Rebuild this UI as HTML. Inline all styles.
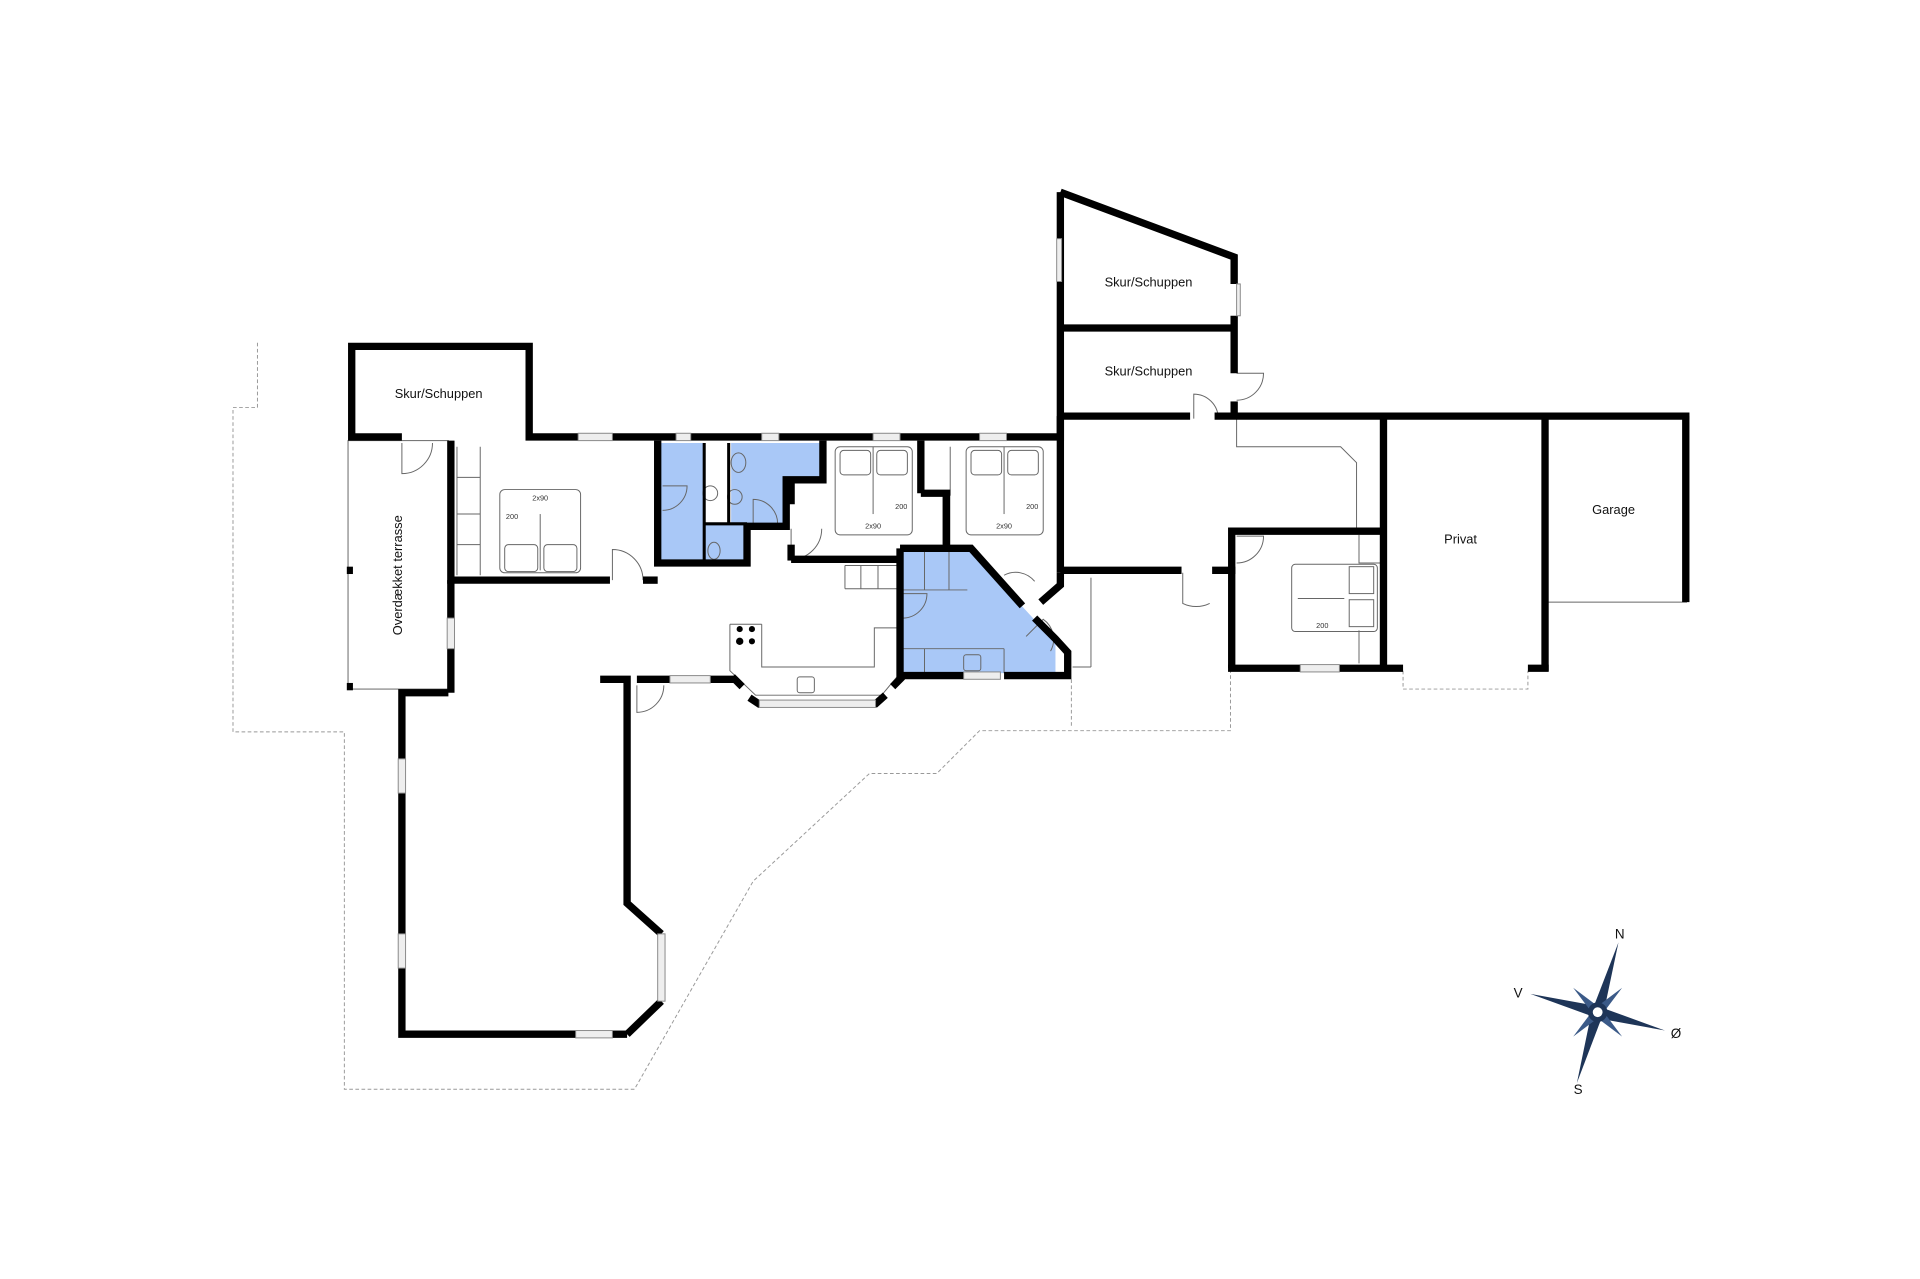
<!DOCTYPE html>
<html><head><meta charset="utf-8"><style>html,body{margin:0;padding:0;background:#fff}svg{display:block}</style></head><body>
<svg width="1920" height="1279" viewBox="0 0 1568 1045" xmlns="http://www.w3.org/2000/svg" font-family="Liberation Sans, sans-serif">
<rect width="1568" height="1045" fill="#fff"/>
<g fill="none" stroke="#999" stroke-width="0.8" stroke-dasharray="3,2">
<polyline points="210,280 210,333 190,333 190,598 281,598 281,890 518,890 615,720 710,632 765,632 800,597 1005,597 1005,548"/>
<polyline points="875,555 875,595"/>
<polyline points="1146,548 1146,563 1248,563 1248,548"/>
</g>
<g fill="#a9c8f7">
<polygon points="538,362 575,362 575,460 538,460"/>
<polygon points="575,428 608,428 608,460 575,460"/>
<polygon points="597,362 670,362 670,392 642,392 642,428 597,428"/>
<polygon points="737,450 793,450 862,525 862,550 737,550"/>
</g>
<g fill="none" stroke="#666" stroke-width="0.8">
<rect x="284" y="360" width="82" height="203"/>
<line x1="373" y1="365" x2="373" y2="470"/><line x1="373" y1="390" x2="392" y2="390"/><line x1="373" y1="420" x2="392" y2="420"/><line x1="373" y1="445" x2="392" y2="445"/>
<line x1="392" y1="365" x2="392" y2="470"/>
<rect x="408" y="400" width="66" height="68" rx="4"/>
<line x1="441" y1="420" x2="441" y2="466"/>
<rect x="682" y="365" width="63" height="72" rx="4"/><line x1="713" y1="365" x2="713" y2="420"/>
<rect x="789" y="365" width="63" height="72" rx="4"/><line x1="820" y1="365" x2="820" y2="420"/>
<rect x="1055" y="461" width="70" height="55" rx="3"/><line x1="1060" y1="489" x2="1098" y2="489"/>
<rect x="1102" y="463" width="20" height="22"/><rect x="1102" y="490" width="20" height="22"/>
<rect x="412" y="445" width="27" height="22" rx="3"/><rect x="444" y="445" width="27" height="22" rx="3"/>
<rect x="686" y="368" width="25" height="20" rx="3"/><rect x="716" y="368" width="25" height="20" rx="3"/>
<rect x="793" y="368" width="25" height="20" rx="3"/><rect x="823" y="368" width="25" height="20" rx="3"/>
<polyline points="596,510 596,548 617,568 720,568 735,550"/>
<polyline points="622,510 622,545 714,545 714,513 735,513"/>
<line x1="596" y1="510" x2="622" y2="510"/>
<line x1="690" y1="462" x2="735" y2="462"/><line x1="690" y1="462" x2="690" y2="481"/><line x1="703" y1="462" x2="703" y2="481"/><line x1="717" y1="462" x2="717" y2="481"/><line x1="690" y1="481" x2="735" y2="481"/>
<line x1="737" y1="482" x2="790" y2="482"/><line x1="755" y1="450" x2="755" y2="482"/><line x1="775" y1="450" x2="775" y2="482"/>
<line x1="737" y1="530" x2="820" y2="530"/><line x1="820" y1="530" x2="820" y2="550"/><line x1="755" y1="530" x2="755" y2="550"/>
<rect x="787" y="535" width="14" height="13" rx="2"/><rect x="651" y="553" width="14" height="13" rx="2"/>
<circle cx="580" cy="403" r="6"/><circle cx="600" cy="406" r="6"/><ellipse cx="603" cy="378" rx="6" ry="8"/><ellipse cx="583" cy="450" rx="5" ry="7"/>
<polyline points="1010,342 1010,365 1095,365 1108,378 1108,432"/>
<polyline points="1110,437 1110,460 1128,460"/><polyline points="1110,515 1110,542"/>
<line x1="1262" y1="492" x2="1378" y2="492"/>
<line x1="891" y1="472" x2="891" y2="545"/><line x1="876" y1="545" x2="891" y2="545"/>
<line x1="770" y1="403" x2="770" y2="445"/><line x1="776" y1="365" x2="776" y2="405"/>
<path d="M328,362 v25 a25,25 0 0 0 25,-25"/>
<path d="M500,474 v-25 a25,25 0 0 1 25,25"/>
<path d="M541,397 h20 a20,20 0 0 1 -20,20"/>
<path d="M615,428 v-20 a20,20 0 0 1 20,20" />
<path d="M646,432 v25 a25,25 0 0 0 25,-25"/>
<path d="M520,560 v22 a22,22 0 0 0 22,-22"/>
<path d="M737,485 h20 a20,20 0 0 1 -20,20"/>
<path d="M838,520 l14,-14 a20,20 0 0 1 6,26"/>
<path d="M820,470 a20,20 0 0 1 25,5"/>
<path d="M975,342 v-20 a20,20 0 0 1 20,20"/>
<path d="M1010,305 h22 a22,22 0 0 1 -22,22"/>
<path d="M1010,438 h22 a22,22 0 0 1 -22,22"/>
<path d="M966,468 v25 a25,25 0 0 0 22,0"/>
</g>
<g fill="none" stroke="#000" stroke-width="2.5">
<line x1="575" y1="362" x2="575" y2="460"/><line x1="595" y1="362" x2="595" y2="428"/>
<line x1="575" y1="428" x2="610" y2="428"/>
</g>
<g fill="none" stroke="#000" stroke-width="6" stroke-linejoin="miter">
<polyline points="328,357 287,357 287,283 432,283 432,357 866,357 866,157"/>
<polyline points="866,157 1008,210 1008,232"/>
<line x1="1008" y1="258" x2="1008" y2="305"/>
<line x1="1008" y1="328" x2="1008" y2="340"/>
<line x1="866" y1="268" x2="1008" y2="268"/>
<line x1="866" y1="340" x2="972" y2="340"/>
<line x1="992" y1="340" x2="1380" y2="340"/><polyline points="1377,340 1377,492"/>
<line x1="1262" y1="340" x2="1262" y2="548"/><line x1="1248" y1="546" x2="1265" y2="546"/>
<line x1="1130" y1="340" x2="1130" y2="545"/>
<polyline points="1006,546 1006,434 1130,434"/>
<line x1="1003" y1="546" x2="1062" y2="546"/><line x1="1094" y1="546" x2="1146" y2="546"/>
<line x1="866" y1="340" x2="866" y2="468"/>
<line x1="866" y1="466" x2="965" y2="466"/><line x1="990" y1="466" x2="1009" y2="466"/>
<polyline points="368,360 368,474 498,474"/><line x1="525" y1="474" x2="537" y2="474"/>
<line x1="368" y1="474" x2="368" y2="505"/><line x1="368" y1="530" x2="368" y2="566"/>
<polyline points="537,360 537,460 610,460 610,430 642,430 642,392 672,392 672,360"/>
<line x1="646" y1="392" x2="646" y2="412"/><line x1="646" y1="445" x2="646" y2="458"/>
<polyline points="646,457 735,457"/>
<line x1="752" y1="360" x2="752" y2="403"/><polyline points="752,403 773,403 773,448"/>
<polyline points="735,448 793,448 835,495"/><polyline points="845,505 862,522 872,533 872,552 820,552"/><line x1="735" y1="448" x2="735" y2="555"/>
<line x1="735" y1="552" x2="787" y2="552"/>
<polyline points="866,468 866,478 850,492"/>
<polyline points="366,566 328,566 328,845 470,845"/><line x1="500" y1="845" x2="512" y2="845"/>
<polyline points="512,845 540,818"/><polyline points="540,763 512,738 512,555 490,555"/>
<line x1="520" y1="555" x2="547" y2="555"/><line x1="580" y1="555" x2="600" y2="555"/>
<line x1="598" y1="553" x2="606" y2="561"/><line x1="612" y1="570" x2="621" y2="576"/>
<line x1="714" y1="576" x2="723" y2="568"/><line x1="729" y1="561" x2="737" y2="553"/>
</g>
<g fill="#000"><rect x="283" y="463" width="5" height="6"/><rect x="283" y="558" width="5" height="6"/></g>
<g fill="#eee" stroke="#888" stroke-width="0.8">
<rect x="472" y="354" width="28" height="6"/><rect x="552" y="354" width="12" height="6"/><rect x="622" y="354" width="14" height="6"/>
<rect x="713" y="354" width="22" height="6"/><rect x="800" y="354" width="22" height="6"/>
<rect x="547" y="552" width="33" height="6"/><rect x="620" y="572" width="95" height="6"/>
<rect x="787" y="549" width="30" height="6"/><rect x="1062" y="543" width="32" height="6"/>
<rect x="470" y="842" width="30" height="6"/><rect x="537" y="763" width="6" height="55"/>
<rect x="325" y="620" width="6" height="28"/><rect x="325" y="763" width="6" height="28"/>
<rect x="365" y="505" width="6" height="25"/>
<rect x="863" y="195" width="4" height="35"/><rect x="1010" y="232" width="3" height="26"/>
</g>
<g font-size="10.5" fill="#111" text-anchor="middle">
<text x="358" y="325">Skur/Schuppen</text>
<text x="938" y="234">Skur/Schuppen</text>
<text x="938" y="307">Skur/Schuppen</text>
<text x="1193" y="444">Privat</text>
<text x="1318" y="420">Garage</text>
<text transform="translate(328,470) rotate(-90)">Overdækket terrasse</text>
</g>
<g font-size="6" fill="#333" text-anchor="middle">
<text x="441" y="409">2x90</text><text x="418" y="424">200</text>
<text x="713" y="432">2x90</text><text x="736" y="416">200</text>
<text x="820" y="432">2x90</text><text x="843" y="416">200</text>
<text x="1080" y="513">200</text>
</g>
<g fill="#000"><circle cx="604" cy="514" r="2.5"/><circle cx="614" cy="514" r="2.5"/><circle cx="604" cy="524" r="3"/><circle cx="614" cy="524" r="2.5"/></g>
<g>
<polygon points="1322,770 1310,827 1300,827" fill="#1e3558"/>
<polygon points="1288,885 1300,827 1310,827" fill="#1e3558"/>
<polygon points="1250,812 1305,822 1305,832" fill="#1e3558"/>
<polygon points="1360,842 1305,832 1305,822" fill="#1e3558"/>
<polygon points="1285,807 1305,822 1300,827" fill="#3b5a88"/>
<polygon points="1325,807 1310,827 1305,822" fill="#3b5a88"/>
<polygon points="1285,847 1300,827 1305,832" fill="#3b5a88"/>
<polygon points="1325,847 1305,832 1310,827" fill="#3b5a88"/>
<circle cx="1305" cy="827" r="8" fill="#1e3558"/><circle cx="1305" cy="827" r="4" fill="#fff"/>
<g font-size="11" fill="#111" text-anchor="middle"><text x="1323" y="767">N</text><text x="1289" y="894">S</text><text x="1240" y="815">V</text><text x="1369" y="848">Ø</text></g>
</g>
</svg>
</body></html>
